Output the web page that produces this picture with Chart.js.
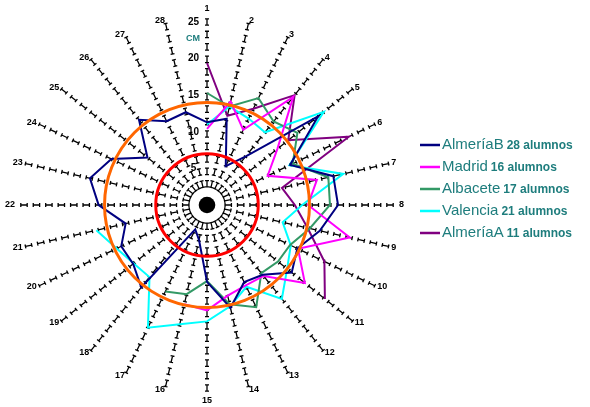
<!DOCTYPE html>
<html>
<head>
<meta charset="utf-8">
<script src="https://cdn.jsdelivr.net/npm/chart.js@4.4.0/dist/chart.umd.min.js"></script>
<style>
  html, body { margin: 0; padding: 0; background: #ffffff; }
  #wrap { width: 590px; height: 407px; position: relative; }
</style>
</head>
<body>
<div id="wrap"><canvas id="chart" width="590" height="407"></canvas></div>
<script>
// Student number on each spoke
const students = ['1','2','3','4','5','6','7','8','9','10','11','12','13','14',
                  '15','16','17','18','19','20','21','22','23','24','25','26','27','28'];

// Measurements (cm) per student, one list per group
const almeriaB = [11.3, 12.1, 5.9, 8.5, 19.4, 12.6, 17.7, 17.9, 15.8, 13.7, 14.8, 12.2, 11.7, 14.4,
                  10.5, 4.9, 3.7, 14.4, 12.9, 13.0, 11.4, 14.8, 16.4, 14.5, 10.4, 14.9, 12.7, 13.0];
const madrid   = [10.4, 14.5, 11.4, 18.9, 12.3, 9.2, 15.4, 13.8, 20.0, 13.8, 17.1, 12.4, 12.2, 12.7,
                  14.4, 13.9];
const albacete = [15.3, 13.8, 16.2, 14.6, 15.8, 13.0, 17.0, 16.8, 14.4, 12.6, 12.4, 11.9, 15.5, 13.9,
                  10.4, 12.5, 13.1];
const valencia = [11.0, 13.8, 13.1, 12.7, 20.4, 12.5, 19.1, 13.0, 10.6, 12.7, 14.0, 16.4, 12.4, 14.2,
                  15.9, 16.7, 18.6, 12.6, 12.8, 13.7, 15.5];
const almeriaA = [19.4, 12.5, 14.6, 19.2, 14.2, 21.5, 10.5, 12.0, 14.1, 17.8, 20.6];

const groupNames  = ['AlmeríaB', 'Madrid', 'Albacete', 'Valencia', 'AlmeríaA'];
const groupValues = [almeriaB, madrid, albacete, valencia, almeriaA];
const groupColors = ['#000080', '#FF00FF', '#339966', '#00FFFF', '#800080'];

// Radial axis labels and reference rings (cm)
const scaleTicks  = [5, 10, 15, 20, 25];
const unitLabel   = 'CM';
const refRings    = [7, 14];
const ringColors  = ['#FF0000', '#FF6600'];

const FONT = "'Liberation Sans', Arial, sans-serif";
const TEAL = '#1E7D7D';
const MARK_STEP = 1.7;

function padTo(list, n) {
  const out = list.slice();
  while (out.length < n) out.push(null);
  return out;
}

const datasets = groupNames.map((name, i) => ({
  label: name,
  data: padTo(groupValues[i], students.length),
  borderColor: groupColors[i],
  backgroundColor: groupColors[i],
  borderWidth: 2,
  pointRadius: 0,
  pointHoverRadius: 0,
  fill: false,
  spanGaps: false,
  tension: 0
}));

// Dashed spokes with small bar marks, spoke numbers, axis numbers
const spokes = {
  id: 'spokes',
  beforeDatasetsDraw(chart) {
    const s = chart.scales.r;
    const ctx = chart.ctx;
    const n = chart.data.labels.length;
    ctx.save();
    ctx.strokeStyle = '#000';
    ctx.lineWidth = 1.3;
    ctx.lineCap = 'butt';
    for (let i = 0; i < n; i++) {
      for (let v = s.max; v > 2; v -= MARK_STEP) {
        const d = s.getDistanceFromCenterForValue(v);
        const a = s.getPointPosition(i, d - 3.2);
        const b = s.getPointPosition(i, d + 3.2);
        const px = -Math.sin(a.angle) * 2, py = Math.cos(a.angle) * 2;
        ctx.beginPath();
        ctx.moveTo(a.x, a.y); ctx.lineTo(b.x, b.y);
        ctx.moveTo(a.x - px, a.y - py); ctx.lineTo(a.x + px, a.y + py);
        ctx.moveTo(b.x - px, b.y - py); ctx.lineTo(b.x + px, b.y + py);
        ctx.stroke();
      }
    }
    // spoke numbers: left-aligned on the right half, right-aligned on the left half
    ctx.fillStyle = '#000';
    ctx.font = 'bold 9px ' + FONT;
    ctx.textBaseline = 'middle';
    const outer = s.getDistanceFromCenterForValue(s.max);
    chart.data.labels.forEach((lab, i) => {
      const p0 = s.getPointPosition(i, 1);
      const sx = Math.cos(p0.angle), sy = Math.sin(p0.angle);
      let dist = outer + 6;
      if (Math.abs(sx) < 0.01) {
        ctx.textAlign = 'center';
        dist = outer + 13;
      } else {
        ctx.textAlign = sx > 0 ? 'left' : 'right';
        if (Math.abs(sy) < 0.01) dist = outer + 9;
      }
      const p = s.getPointPosition(i, dist);
      ctx.fillText(lab, p.x, p.y);
    });
    // radial axis values beside spoke 1
    ctx.textAlign = 'center';
    ctx.font = 'bold 10px ' + FONT;
    scaleTicks.forEach(t => {
      const d = s.getDistanceFromCenterForValue(t);
      ctx.fillText(String(t), s.xCenter - 13.5, s.yCenter - d);
    });
    ctx.fillStyle = TEAL;
    ctx.font = 'bold 9px ' + FONT;
    ctx.fillText(unitLabel, s.xCenter - 14, s.yCenter - s.getDistanceFromCenterForValue(22.7));
    ctx.restore();
  },
  afterDatasetsDraw(chart) {
    const s = chart.scales.r;
    const ctx = chart.ctx;
    ctx.save();
    // reference rings
    refRings.forEach((v, i) => {
      ctx.beginPath();
      ctx.strokeStyle = ringColors[i];
      ctx.lineWidth = 3;
      ctx.arc(s.xCenter, s.yCenter, s.getDistanceFromCenterForValue(v), 0, Math.PI * 2);
      ctx.stroke();
    });
    // hub
    ctx.beginPath();
    ctx.fillStyle = '#000';
    ctx.arc(s.xCenter, s.yCenter, 8.3, 0, Math.PI * 2);
    ctx.fill();
    // legend
    chart.data.datasets.forEach((ds, i) => {
      const y = 145 + i * 22;
      ctx.beginPath();
      ctx.strokeStyle = ds.borderColor;
      ctx.lineWidth = 2.5;
      ctx.moveTo(420, y); ctx.lineTo(440, y);
      ctx.stroke();
      ctx.fillStyle = TEAL;
      ctx.textAlign = 'left';
      ctx.textBaseline = 'middle';
      ctx.font = '15px ' + FONT;
      ctx.fillText(ds.label, 442, y);
      const w = ctx.measureText(ds.label).width;
      ctx.font = 'bold 12px ' + FONT;
      const count = groupValues[i].length + ' alumnos';
      ctx.fillText(count, 442 + w + 3, y + 0.5);
    });
    ctx.restore();
  }
};

new Chart(document.getElementById('chart'), {
  type: 'radar',
  data: { labels: students, datasets: datasets },
  options: {
    responsive: false,
    animation: false,
    events: [],
    layout: { padding: { left: 24, right: 199, top: 22, bottom: 18 } },
    plugins: { legend: { display: false }, tooltip: { enabled: false } },
    elements: { line: { borderJoinStyle: 'miter' } },
    scales: {
      r: {
        min: 0,
        max: 25,
        startAngle: 0,
        grid: { display: false },
        angleLines: { display: false },
        pointLabels: { display: false },
        ticks: { display: false }
      }
    }
  },
  plugins: [spokes]
});
</script>
</body>
</html>
